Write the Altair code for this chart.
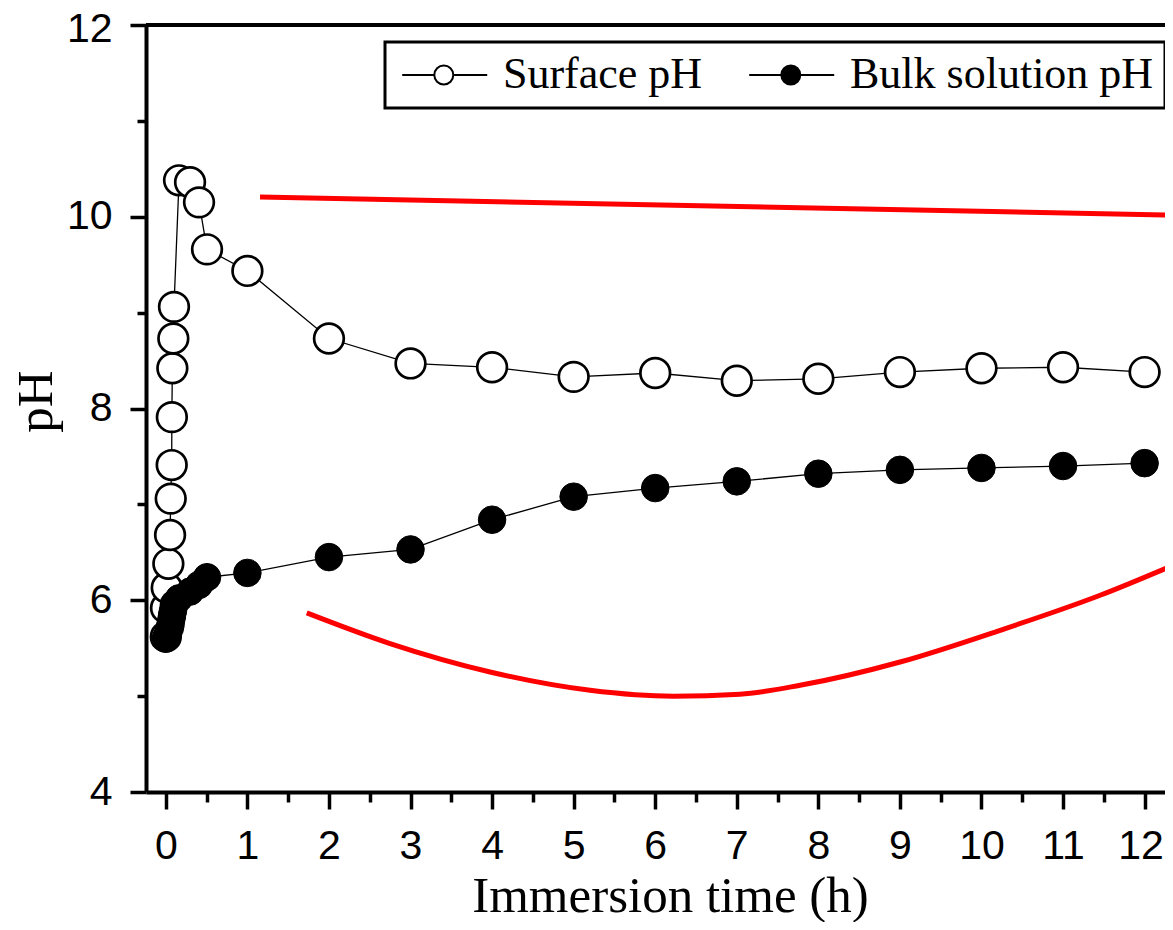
import altair as alt
import pandas as pd

# ---- data ----
surf_t = [0.0, 0.002, 0.011, 0.031, 0.052, 0.060, 0.072, 0.074, 0.080, 0.092, 0.100,
          0.162, 0.297, 0.407, 0.505, 1, 2, 3, 4, 5, 6, 7, 8, 9, 10, 11, 12]
surf_ph = [5.62, 5.92, 6.13, 6.38, 6.68, 7.06, 7.41, 7.91, 8.42, 8.73, 9.06,
           10.38, 10.36, 10.15, 9.66, 9.435, 8.73, 8.47, 8.43, 8.33, 8.37, 8.29, 8.31, 8.38, 8.42, 8.43, 8.38]

bulk_t = [0.0, 0.011, 0.031, 0.052, 0.060, 0.072, 0.080, 0.092, 0.100, 0.162, 0.297, 0.407, 0.505,
          1, 2, 3, 4, 5, 6, 7, 8, 9, 10, 11, 12]
bulk_ph = [5.60, 5.62, 5.66, 5.72, 5.76, 5.82, 5.86, 5.91, 5.96, 6.02, 6.09, 6.16, 6.24,
           6.285, 6.45, 6.53, 6.84, 7.08, 7.17, 7.24, 7.32, 7.36, 7.38, 7.40, 7.43]

red_top_t = [1.155, 12.35]
red_top_ph = [10.207, 10.016]
red_low_t = [1.728, 2.749, 3.975, 5.201, 6.219, 7.040, 7.776, 9.002, 10.229, 11.455, 12.35]
red_low_ph = [5.868, 5.548, 5.252, 5.061, 4.999, 5.020, 5.113, 5.356, 5.687, 6.052, 6.365]

series_names = ["Surface pH", "Bulk solution pH"]
x_major = list(range(0, 13))
x_minor = [i + 0.5 for i in range(12)]
y_major = [4, 6, 8, 10, 12]
y_minor = [5, 7, 9, 11]

surf = pd.DataFrame({"t": surf_t, "pH": surf_ph, "series": series_names[0]})
bulk = pd.DataFrame({"t": bulk_t, "pH": bulk_ph, "series": series_names[1]})
red = pd.concat([
    pd.DataFrame({"t": red_top_t, "pH": red_top_ph, "curve": "top"}),
    pd.DataFrame({"t": red_low_t, "pH": red_low_ph, "curve": "low"}),
])
top_edge = pd.DataFrame({"v": [y_major[-1]]})

xscale = alt.Scale(domain=[-0.243, 12.25], nice=False, zero=False)
yscale = alt.Scale(domain=[4, 12], nice=False, zero=False)

major_x_axis = alt.Axis(
    orient="bottom", values=x_major, grid=False,
    tickSize=17, tickWidth=3.5, tickColor="black",
    domain=True, domainWidth=4, domainColor="black",
    labelFont="Liberation Sans", labelFontSize=41, labelColor="black",
    labelPadding=17, labelBaseline="top", labelFlush=False, labelOverlap=False,
    labelOffset={"condition": {"test": "datum.value === 12", "value": -4}, "value": 0},
    title="Immersion time (h)", titleFont="Liberation Serif", titleFontSize=51,
    titleFontWeight="normal", titleColor="black", titleX=524, titleY=119,
    titleBaseline="alphabetic", titleAlign="center",
)
major_y_axis = alt.Axis(
    orient="left", values=y_major, grid=False,
    tickSize=16, tickWidth=3.5, tickColor="black",
    domain=True, domainWidth=4, domainColor="black",
    labelFont="Liberation Sans", labelFontSize=41, labelColor="black",
    labelPadding=18, labelFlush=False, labelOverlap=False,
    labelOffset={"condition": {"test": "datum.value === 12", "value": 4}, "value": 0},
    title="pH", titleFont="Liberation Serif", titleFontSize=51,
    titleFontWeight="normal", titleColor="black", titleX=-95, titleY=376,
    titleAngle=270, titleBaseline="alphabetic", titleAlign="center",
)
minor_x_axis = alt.Axis(orient="bottom", values=x_minor, grid=False, tickSize=10,
                        tickWidth=3.5, tickColor="black", labels=False, domain=False, title=None)
minor_y_axis = alt.Axis(orient="left", values=y_minor, grid=False, tickSize=9,
                        tickWidth=3.5, tickColor="black", labels=False, domain=False, title=None)

LEGEND_PATH = ("M-0.79,0H0.815M1.765,0H3.46"
               "M0.815,0A0.475,0.475,0,1,1,1.765,0A0.475,0.475,0,1,1,0.815,0Z")
legend = alt.Legend(
    title=None, orient="none", legendX=239, legendY=17, direction="horizontal",
    symbolType=LEGEND_PATH, symbolSize=1600, symbolStrokeWidth=2, symbolStrokeColor="black",
    labelFont="Liberation Serif", labelFontSize=44, labelColor="black", labelOffset=63,
    labelLimit=500, padding=11, columnPadding=40, strokeColor="black", fillColor="white",
)
fill_scale = alt.Scale(domain=series_names, range=["white", "black"])

red_lines = alt.Chart(red).mark_line(color="#ff0000", strokeWidth=5, interpolate="monotone", clip=True).encode(
    x=alt.X("t:Q", scale=xscale, axis=minor_x_axis),
    y=alt.Y("pH:Q", scale=yscale, axis=minor_y_axis),
    detail="curve:N",
)
surf_line = alt.Chart(surf).mark_line(color="black", strokeWidth=1.3).encode(
    x=alt.X("t:Q", scale=xscale, axis=None),
    y=alt.Y("pH:Q", scale=yscale, axis=None),
)
bulk_line = alt.Chart(bulk).mark_line(color="black", strokeWidth=1.3).encode(
    x=alt.X("t:Q", scale=xscale, axis=None),
    y=alt.Y("pH:Q", scale=yscale, axis=None),
)
surf_pts = alt.Chart(surf).mark_point(filled=True, size=880, stroke="black", strokeWidth=2.7, opacity=1).encode(
    x=alt.X("t:Q", scale=xscale, axis=major_x_axis),
    y=alt.Y("pH:Q", scale=yscale, axis=major_y_axis),
    fill=alt.Fill("series:N", scale=fill_scale, legend=legend),
)
bulk_pts = alt.Chart(bulk).mark_point(filled=True, size=760, stroke="black", strokeWidth=1, opacity=1).encode(
    x=alt.X("t:Q", scale=xscale, axis=None),
    y=alt.Y("pH:Q", scale=yscale, axis=None),
    fill=alt.Fill("series:N", scale=fill_scale, legend=legend),
)
top_rule = alt.Chart(top_edge).mark_rule(color="black", strokeWidth=4).encode(
    y=alt.Y("v:Q", scale=yscale, axis=None),
)

chart = alt.layer(red_lines, surf_line, bulk_line, surf_pts, bulk_pts, top_rule).resolve_axis(
    x="independent", y="independent"
).properties(
    width=1019, height=767,
    autosize=alt.AutoSizeParams(type="none"),
    padding={"left": 138, "top": 17, "right": 0, "bottom": 130},
).configure_view(stroke=None).configure_legend(strokeWidth=3)

chart.save("out.html", embed_options={"renderer": "svg", "actions": False})
